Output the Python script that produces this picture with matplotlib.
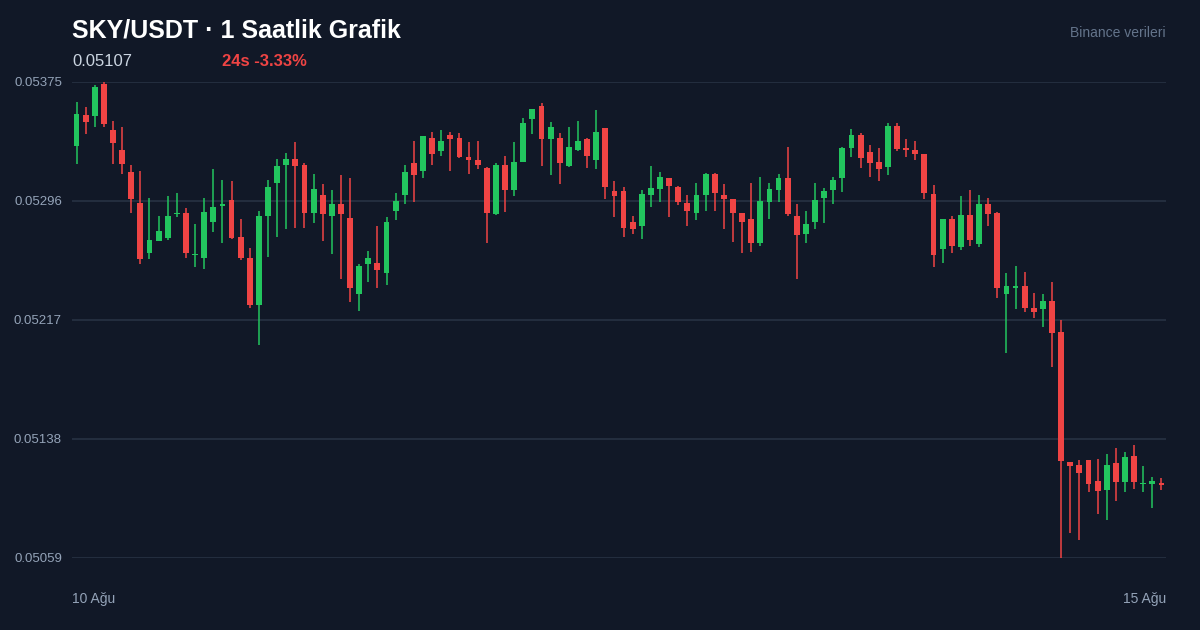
import numpy as np
import matplotlib.pyplot as plt

# SKY/USDT hourly candles (10 - 15 Aug)
opens = [0.053325, 0.053529, 0.053522, 0.053739, 0.053429, 0.053299, 0.053151, 0.052949, 0.052613, 0.052694,
         0.052712, 0.052872, 0.052880, 0.052600, 0.052584, 0.052823, 0.052929, 0.052969, 0.052719, 0.052582,
         0.052272, 0.052862, 0.053081, 0.053201, 0.053239, 0.053199, 0.052882, 0.053000, 0.052862, 0.052940,
         0.052849, 0.052343, 0.052542, 0.052548, 0.052482, 0.052894, 0.053002, 0.053210, 0.053161, 0.053378,
         0.053294, 0.053398, 0.053380, 0.053250, 0.053230, 0.053179, 0.052872, 0.053199, 0.053031, 0.053221,
         0.053502, 0.053591, 0.053374, 0.053380, 0.053192, 0.053301, 0.053372, 0.053232, 0.053443, 0.053028,
         0.053028, 0.052821, 0.052792, 0.053002, 0.053042, 0.053111, 0.053051, 0.052949, 0.052882, 0.053002,
         0.053141, 0.052998, 0.052971, 0.052878, 0.052841, 0.052683, 0.052951, 0.053033, 0.053111, 0.052860,
         0.052741, 0.052823, 0.052982, 0.053031, 0.053113, 0.053314, 0.053398, 0.053287, 0.053219, 0.053184,
         0.053458, 0.053310, 0.053299, 0.053270, 0.053008, 0.052643, 0.052839, 0.052653, 0.052869, 0.052673,
         0.052938, 0.052878, 0.052345, 0.052384, 0.052398, 0.052250, 0.052243, 0.052298, 0.052088, 0.051227,
         0.051207, 0.051239, 0.051099, 0.051041, 0.051219, 0.051093, 0.051269, 0.051079, 0.051083, 0.051088]
highs = [0.053619, 0.053582, 0.053730, 0.053750, 0.053491, 0.053451, 0.053201, 0.053159, 0.052978, 0.052860,
         0.052991, 0.053011, 0.052912, 0.052809, 0.052978, 0.053170, 0.053099, 0.053091, 0.052841, 0.052650,
         0.052892, 0.053099, 0.053241, 0.053281, 0.053350, 0.053210, 0.053139, 0.053071, 0.053031, 0.053131,
         0.053111, 0.052542, 0.052630, 0.052792, 0.052852, 0.053013, 0.053201, 0.053360, 0.053392, 0.053420,
         0.053431, 0.053420, 0.053411, 0.053350, 0.053360, 0.053183, 0.053210, 0.053261, 0.053352, 0.053511,
         0.053574, 0.053611, 0.053482, 0.053411, 0.053451, 0.053491, 0.053375, 0.053562, 0.053446, 0.053091,
         0.053051, 0.052860, 0.053031, 0.053192, 0.053153, 0.053114, 0.053060, 0.053000, 0.053081, 0.053144,
         0.053144, 0.053071, 0.052974, 0.052881, 0.053081, 0.053121, 0.053081, 0.053141, 0.053320, 0.052940,
         0.052892, 0.053078, 0.053048, 0.053119, 0.053318, 0.053440, 0.053409, 0.053330, 0.053310, 0.053480,
         0.053480, 0.053370, 0.053358, 0.053273, 0.053068, 0.052842, 0.052858, 0.052991, 0.053031, 0.053000,
         0.052980, 0.052889, 0.052480, 0.052529, 0.052489, 0.052349, 0.052341, 0.052420, 0.052170, 0.051230,
         0.051241, 0.051242, 0.051249, 0.051280, 0.051320, 0.051292, 0.051340, 0.051201, 0.051130, 0.051119]
lows = [0.053204, 0.053403, 0.053451, 0.053453, 0.053204, 0.053141, 0.052882, 0.052542, 0.052573, 0.052694,
        0.052703, 0.052852, 0.052582, 0.052522, 0.052511, 0.052752, 0.052683, 0.052710, 0.052570, 0.052252,
        0.052004, 0.052590, 0.052721, 0.052772, 0.052783, 0.052783, 0.052812, 0.052692, 0.052610, 0.052442,
        0.052292, 0.052230, 0.052420, 0.052382, 0.052402, 0.052832, 0.052942, 0.052951, 0.053111, 0.053201,
        0.053261, 0.053161, 0.053243, 0.053141, 0.053172, 0.052683, 0.052868, 0.052889, 0.052991, 0.053218,
        0.053403, 0.053192, 0.053133, 0.053071, 0.053189, 0.053290, 0.053181, 0.053172, 0.052971, 0.052852,
        0.052723, 0.052741, 0.052710, 0.052922, 0.052951, 0.052852, 0.052932, 0.052792, 0.052832, 0.052892,
        0.052892, 0.052772, 0.052690, 0.052613, 0.052621, 0.052663, 0.052843, 0.052951, 0.052862, 0.052442,
        0.052681, 0.052772, 0.052812, 0.052942, 0.053022, 0.053252, 0.053181, 0.053121, 0.053093, 0.053133,
        0.053292, 0.053252, 0.053232, 0.052971, 0.052522, 0.052550, 0.052613, 0.052633, 0.052663, 0.052653,
        0.052794, 0.052313, 0.051953, 0.052241, 0.052221, 0.052181, 0.052122, 0.051860, 0.050592, 0.050754,
        0.050712, 0.051030, 0.050882, 0.050842, 0.050970, 0.051030, 0.051050, 0.051030, 0.050922, 0.051041]
closes = [0.053538, 0.053482, 0.053719, 0.053471, 0.053343, 0.053204, 0.052973, 0.052573, 0.052699, 0.052759,
          0.052858, 0.052880, 0.052613, 0.052608, 0.052889, 0.052918, 0.052940, 0.052712, 0.052584, 0.052272,
          0.052860, 0.053051, 0.053190, 0.053239, 0.053194, 0.052882, 0.053040, 0.052874, 0.052940, 0.052874,
          0.052382, 0.052530, 0.052582, 0.052504, 0.052821, 0.052960, 0.053151, 0.053133, 0.053392, 0.053272,
          0.053358, 0.053374, 0.053250, 0.053234, 0.053201, 0.052882, 0.053199, 0.053031, 0.053219, 0.053480,
          0.053571, 0.053374, 0.053449, 0.053212, 0.053318, 0.053358, 0.053261, 0.053418, 0.053053, 0.052993,
          0.052783, 0.052772, 0.053008, 0.053048, 0.053119, 0.053062, 0.052951, 0.052894, 0.053000, 0.053141,
          0.053013, 0.052973, 0.052882, 0.052823, 0.052683, 0.052960, 0.053040, 0.053111, 0.052872, 0.052732,
          0.052809, 0.052969, 0.053028, 0.053099, 0.053310, 0.053398, 0.053243, 0.053212, 0.053172, 0.053458,
          0.053303, 0.053301, 0.053272, 0.053013, 0.052604, 0.052839, 0.052663, 0.052869, 0.052703, 0.052938,
          0.052874, 0.052384, 0.052398, 0.052396, 0.052252, 0.052223, 0.052298, 0.052084, 0.051232, 0.051203,
          0.051152, 0.051083, 0.051033, 0.051207, 0.051093, 0.051261, 0.051093, 0.051088, 0.051099, 0.051072]

y_ticks = [0.05059, 0.05138, 0.05217, 0.05296, 0.05375]
x_labels = ["10 Ağu", "15 Ağu"]

BG = "#111827"
UP = "#22c55e"
DOWN = "#ef4444"

plt.rcParams['font.family'] = ['Liberation Sans', 'DejaVu Sans']

fig = plt.figure(figsize=(12, 6.3), dpi=100, facecolor=BG)
ax = fig.add_axes([72 / 1200, 1 - 558 / 630, (1166 - 72) / 1200, (558 - 82) / 630])
ax.set_facecolor(BG)

o = np.array(opens)
h = np.array(highs)
l = np.array(lows)
c = np.array(closes)
x = np.arange(len(o))
up = c >= o
cols = np.where(up, UP, DOWN)

ax.vlines(x, l, h, colors=cols, linewidth=1.1, zorder=2)
body_bot = np.minimum(o, c)
body_h = np.maximum(np.abs(c - o), 0.000009)
ax.bar(x, body_h, bottom=body_bot, width=0.64, color=cols, linewidth=0, zorder=3)

ax.set_xlim(-0.5, len(o) - 0.5)
ax.set_ylim(y_ticks[0], y_ticks[-1])
ax.set_yticks(y_ticks)
ax.set_yticklabels(["%.5f" % v for v in y_ticks])
ax.set_xticks([])
ax.grid(axis='y', color="#263041", linewidth=1.3, zorder=0)
ax.tick_params(axis='y', length=0, pad=7.2, labelsize=9.5, labelcolor="#94a3b8")
for s in ax.spines.values():
    s.set_visible(False)

# header
fig.text(72 / 1200, 1 - 30 / 630, "SKY/USDT · 1 Saatlik Grafik", color="white",
         fontsize=18, fontweight='bold', va='center', ha='left')
fig.text(72 / 1200, 1 - 61 / 630, "0.05107", color="#cbd5e1", fontsize=12, va='center', ha='left')
fig.text(222 / 1200, 1 - 61 / 630, "24s -3.33%", color=DOWN, fontsize=12, fontweight='bold',
         va='center', ha='left')
fig.text(1166 / 1200, 1 - 33 / 630, "Binance verileri", color="#64748b", fontsize=10,
         va='center', ha='right')

# date labels
fig.text(72 / 1200, 1 - 599 / 630, x_labels[0], color="#94a3b8", fontsize=10, va='center', ha='left')
fig.text(1166 / 1200, 1 - 599 / 630, x_labels[1], color="#94a3b8", fontsize=10, va='center', ha='right')

fig.savefig("out.png", dpi=100, facecolor=BG)
